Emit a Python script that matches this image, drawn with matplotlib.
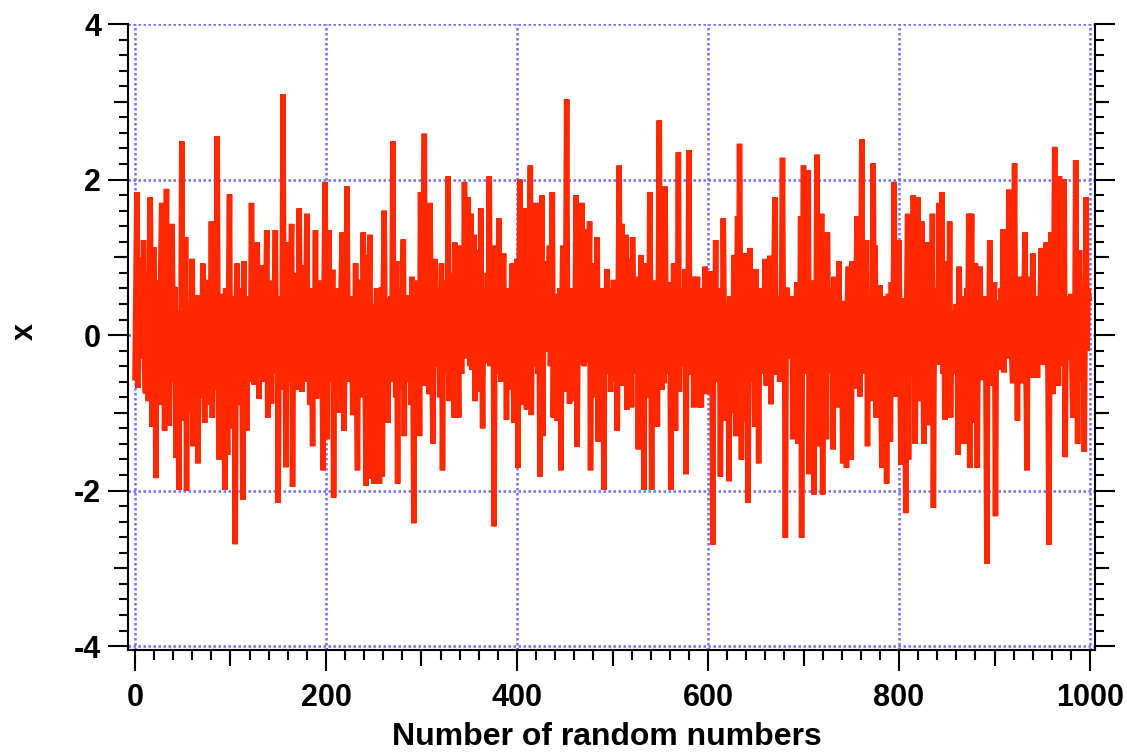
import numpy as np
import matplotlib.pyplot as plt
from matplotlib.ticker import MultipleLocator

# Sequence of 1000 random numbers, one row per 20 samples
rand_x = [
    -0.55, 0.6, 1.84, -0.68, 0.3, 1.0, -0.2, 0.5, -0.3, 1.22, -0.41, -0.75, 0.8, 0.1, -0.85, 0.4, 1.77, 0.2, -1.18, 0.5,
    1.13, -0.3, -1.84, 0.7, -0.4, 0.3, -0.9, 0.9, 1.7, -0.2, 0.6, -1.23, 0.4, 1.88, -0.5, 0.8, -1.17, 0.2, -0.6, 1.43,
    -0.3, 0.1, 0.62, -1.58, 0.3, -0.8, -1.99, 0.2, -0.5, 2.49, -0.7, 0.5, -1.1, 1.26, -2.0, 0.4, -0.6, 0.2, -1.0, 0.3,
    0.98, -1.43, 0.5, -0.3, 0.1, 0.51, -1.65, 0.2, -0.8, 0.4, -0.5, 0.92, -0.2, -1.13, 0.3, -0.6, 0.71, -0.4, 0.1, -0.9,
    1.46, -1.06, 0.5, -0.3, 0.8, -0.7, 2.56, -0.2, -1.6, 0.53, -0.4, 0.2, -1.1, 0.3, -1.99, 0.6, -0.5, -1.54, 0.4, 1.81,
    -0.8, 0.2, -1.2, 0.5, -0.3, -2.69, 0.4, 0.92, -0.9, 0.3, -0.5, 0.6, -0.2, -2.12, 0.95, -0.4, 0.3, -1.23, 0.5, -0.6,
    0.2, -0.3, 1.7, 0.1, -0.5, -0.64, 0.8, -0.2, 1.19, 0.3, -0.82, 0.6, -0.4, 0.9, -0.1, 0.4, -0.6, 0.5, 1.35, -1.06,
    0.2, 0.7, -0.3, -0.88, 0.6, -0.2, 0.3, 1.35, -0.5, 0.4, -2.16, 0.2, -0.7, 0.5, -0.4, 3.1, -0.3, 0.5, -1.7, 0.2,
    -0.6, 1.19, -0.2, 0.6, 1.43, -1.95, 0.3, -0.5, 0.8, -0.4, 0.2, -0.7, 1.63, -0.3, 0.5, -0.73, 0.9, 0.1, -0.6, 0.4,
    1.56, -0.48, 0.3, -0.9, 0.6, 0.0, -1.43, 0.5, -0.3, 1.35, -0.82, 0.4, -0.5, 0.58, -0.2, 0.7, -0.6, -1.74, 0.5, 1.97,
    0.3, -1.34, 0.5, 1.35, -0.6, 0.2, -0.4, 0.84, -2.09, 0.3, -0.5, 0.6, 0.28, -1.0, 0.4, -0.3, 0.7, 1.32, -0.5, -1.23,
    0.2, -0.4, 1.91, 0.1, -0.6, 0.5, -0.2, 0.3, -1.03, 0.4, -0.3, 0.92, -0.5, -1.74, 0.6, 0.71, -0.4, 0.2, -0.8, 1.32,
    0.1, -0.6, -1.94, 1.03, -0.3, 0.5, 1.29, -1.85, 0.4, -0.2, -1.91, 0.3, -0.5, 0.6, -0.9, 0.2, -1.91, 0.4, 0.61, -1.82,
    0.5, 1.6, -0.4, 0.2, 0.47, -1.13, 0.3, -0.6, 0.5, -0.3, 2.49, -0.5, 0.4, -0.8, 0.95, -1.91, 0.3, -0.2, 0.6, -0.7,
    0.2, 1.23, -1.3, 0.4, -0.5, 0.1, 0.51, -0.6, 0.3, -0.9, 0.75, -0.3, -2.42, 0.5, -0.4, 0.7, -0.2, 0.4, -1.3, 1.84,
    0.2, -0.5, 0.6, 2.59, -0.65, 0.4, -0.3, 0.8, -0.76, 1.7, 0.2, -0.4, -1.4, 0.5, 0.98, -0.2, 0.41, -0.41, 0.6, -0.8,
    0.3, 0.92, -1.74, 0.4, -0.3, 0.7, 0.1, -0.5, 2.04, -0.85, 0.5, -0.2, 0.8, 0.2, -1.06, 1.19, -0.4, 0.6, -0.3, -1.06,
    1.15, 0.2, -0.5, 0.6, -0.2, 1.97, 0.4, -0.3, 0.58, 1.77, 0.3, -0.4, 1.56, -0.45, 0.6, 1.29, -0.85, 0.3, 1.09, -0.2,
    0.5, -0.73, 1.63, 0.2, -1.2, 0.6, -0.3, 0.4, -0.36, 0.8, 0.1, 2.04, -0.4, 0.5, -0.2, 1.15, -2.46, 0.3, -0.5, 0.7,
    -0.1, 1.5, 0.3, -0.6, -0.28, 0.5, 1.05, -0.3, 0.4, -1.09, 0.6, -0.4, 0.2, -0.7, 0.5, 0.92, -0.5, -1.13, 0.4, -0.3,
    0.98, -1.71, 0.4, 2.0, -0.3, 0.5, -0.9, 0.6, 0.1, 1.63, -0.96, 0.4, -0.5, 0.8, 2.18, -1.03, 0.3, -0.4, 0.7, -0.38,
    1.7, 0.2, -0.5, 0.6, -1.82, 0.4, 1.8, -1.3, 0.5, -0.2, 0.3, 0.95, -0.21, 0.5, 1.15, -0.4, 0.2, 1.84, -1.06, 0.3,
    -0.5, 0.53, -1.1, 0.4, -0.2, 0.6, -1.74, 0.3, 1.15, -0.4, -0.73, 0.5, 3.03, -0.2, 0.4, -0.88, 0.33, -0.3, 0.6, 0.1,
    -0.85, 0.5, 1.8, -1.44, 0.3, -0.2, 0.6, -0.38, 1.7, 0.2, -0.4, -0.32, 0.7, 1.36, -0.3, 0.5, 1.46, -1.74, 0.4, -0.2,
    0.92, -0.5, 0.3, -0.8, 1.26, -1.37, 0.4, -0.3, 0.6, -0.6, 0.2, -1.99, 0.5, -0.3, 0.85, -0.5, 0.2, 0.6, -0.73, 0.3,
    -0.2, 0.71, -0.6, 0.4, 0.1, -1.23, 0.5, 2.18, -0.2, 0.3, 1.43, -0.65, 0.5, -0.3, 1.29, -0.96, 0.4, 0.98, -0.2, 0.5,
    -0.93, 1.26, 0.2, -0.5, 0.6, -0.3, 0.75, -1.47, 0.4, -0.2, 1.03, 0.1, -0.6, -1.99, 0.5, 0.92, -0.4, 0.3, -0.8, 1.84,
    0.2, -1.99, 0.5, -0.3, 0.7, -0.2, 0.4, -1.18, 0.6, 2.76, -0.3, 0.4, -0.7, 0.5, -0.62, 1.91, 0.2, -0.5, 0.6, -0.3,
    0.68, -1.99, 0.4, -0.2, 0.92, 0.1, -1.23, 0.5, -0.3, 2.35, -0.73, 0.3, 0.51, -0.4, 0.6, -0.2, 0.85, -1.79, 0.4, -0.1,
    2.38, -0.51, 0.3, -0.4, 0.75, -0.93, 0.5, -0.2, 0.3, 0.75, -0.4, -0.93, 0.6, -0.93, 0.2, -0.5, 0.4, 0.88, -0.3, -0.76,
    0.4, -0.3, 0.82, -0.2, 0.5, -2.7, 0.3, -0.4, 1.22, -0.6, 0.4, -0.2, 0.6, -1.82, 0.3, -0.5, 1.5, 0.1, -1.1, 0.4,
    -0.3, 0.23, -1.88, 0.5, -0.2, 0.4, -1.0, 1.03, 0.2, -1.3, 0.5, 1.53, -0.4, 2.46, 0.3, -1.6, 0.4, -1.1, 1.05, -0.3,
    0.5, -0.5, -2.16, 0.4, 1.12, -0.2, 0.5, -0.6, 0.3, -1.18, 0.85, -0.3, 0.4, -1.65, 0.27, -0.5, 0.6, -0.2, -0.38, 0.5,
    0.98, -0.65, 0.3, -0.4, 0.2, 1.02, -0.89, 0.4, -0.2, 0.6, 1.77, -0.51, 0.3, -0.2, 0.5, -0.6, -0.36, 0.62, 2.28, -0.3,
    0.4, -2.61, 0.5, 0.61, -0.3, 0.2, -0.24, 0.5, 0.16, -1.34, 0.4, -0.5, 0.3, 0.68, -1.4, 0.2, -0.4, 1.53, -2.61, 0.5,
    2.18, -0.3, 0.6, -0.5, 0.4, 2.12, -1.79, 0.3, -0.2, 0.7, 0.1, -2.05, 0.5, -0.3, 2.32, -1.43, 0.4, -0.2, 0.6, 1.56,
    -2.05, 0.3, -0.4, 0.6, -1.34, 1.32, 0.2, -0.5, 0.6, -0.3, 0.4, -1.47, 0.75, -0.2, 0.5, 0.1, -0.93, 0.95, -0.3, 0.2,
    0.44, -1.65, 0.4, -0.2, 0.3, -1.71, 0.5, 0.88, -0.4, 0.3, -1.6, 0.95, 0.1, -0.3, -0.69, 0.5, 1.53, -0.2, 0.4, -0.79,
    0.6, 2.52, -0.4, 0.3, -0.5, 0.6, 1.22, -1.43, 0.4, -0.2, 0.5, -0.85, 0.3, 2.21, -0.3, 1.15, -1.06, 0.4, -0.2, 0.3,
    0.64, -0.5, -1.71, 0.4, 0.2, -0.3, 0.5, -1.91, 0.3, 0.53, -0.4, -1.37, 0.68, -0.2, 0.4, 1.97, -0.79, 0.5, -0.3, 0.6,
    1.22, -0.4, -1.67, 0.3, 0.47, -0.5, 0.2, -2.29, 0.4, 1.56, -1.6, 0.3, -0.2, 0.6, -0.5, 1.8, 0.2, -1.4, 0.4, -0.3,
    1.77, 0.1, -0.85, 0.5, 1.46, -0.2, -1.4, 0.4, -0.3, 1.19, 0.2, -1.16, 0.5, 1.09, -0.3, 1.56, -2.22, 0.4, -0.2, 0.6,
    0.1, -0.38, 1.7, -0.3, 0.4, 1.84, -0.5, 0.3, -1.09, 0.95, -0.2, 0.4, -0.6, 1.46, -1.06, 0.3, -0.2, -0.36, 0.11, -0.5,
    0.4, -0.3, -1.54, 0.88, -0.2, 0.4, -0.6, 0.2, -1.4, 0.5, -0.3, 0.6, -0.2, 1.56, -1.71, 0.3, 1.56, -1.13, 0.4, -0.2,
    0.92, -0.5, -1.71, 0.4, -0.3, 0.88, -0.58, 0.3, -0.2, 0.5, 0.28, -0.6, -2.94, 0.4, -0.2, 1.22, -0.65, 0.3, -0.4, 0.5,
    0.68, -2.33, 0.4, -0.2, 0.3, 0.44, -0.45, 0.6, -0.2, 1.36, -0.48, 0.4, -0.3, 0.6, 0.1, 1.87, -0.17, 0.5, -0.3, -0.62,
    0.6, 2.21, -0.4, 0.3, -1.1, 0.5, -0.2, 0.75, -0.62, 0.4, -0.3, 0.6, 1.32, -0.5, -1.74, 0.3, 0.75, -0.2, 0.4, -0.55,
    1.05, 0.1, -0.4, 0.5, 0.34, -0.55, 0.3, -0.2, 0.6, 1.12, -0.3, -0.38, 0.4, -0.2, 1.19, 0.2, -0.5, -2.7, 0.4, 1.32,
    -0.3, -0.76, 0.5, 2.42, -0.2, 0.4, 0.16, -0.65, 2.04, 0.3, -0.4, 0.6, -0.2, 2.0, -1.57, 0.4, -0.3, 0.5, 0.1, -0.32,
    0.53, -0.4, -1.06, 0.5, -0.2, 2.25, 0.3, -1.4, 0.4, 1.09, -0.3, 0.5, -0.6, 0.2, -1.5, 0.4, 1.77, -0.2, 0.6, 0.47,
]
n = np.arange(len(rand_x))

x_ticks = [0, 200, 400, 600, 800, 1000]
y_ticks = [-4, -2, 0, 2, 4]

plt.rcParams['font.family'] = 'Liberation Sans'
plt.rcParams['font.weight'] = 'bold'
plt.rcParams['axes.labelweight'] = 'bold'
plt.rcParams['axes.unicode_minus'] = False

fig = plt.figure(figsize=(11.27, 7.53), dpi=100)
ax = fig.add_axes([128 / 1127, 1 - 650 / 753, 967 / 1127, 626 / 753])

ax.plot(n, rand_x, color='#ff2800', lw=4.0, solid_joinstyle='bevel', zorder=3)

ax.set_xlim(-7.3, 1005.2)
ax.set_ylim(-4.05, 4)
ax.set_xticks(x_ticks)
ax.set_yticks(y_ticks)
ax.xaxis.set_minor_locator(MultipleLocator(20))
ax.yaxis.set_minor_locator(MultipleLocator(0.2))

ax.grid(True, which='major', color='#6e6eff', linestyle=(0, (1, 1)), linewidth=1.8)

ax.spines['top'].set_visible(False)
for side in ['left', 'right', 'bottom']:
    ax.spines[side].set_linewidth(1.5)

ax.tick_params(axis='y', which='major', direction='out', length=14.4, width=1.5,
               left=True, right=True, labelleft=True, labelright=False, labelsize=22, pad=5)
ax.tick_params(axis='y', which='minor', direction='out', length=6.5, width=1.5, left=True, right=True)
ax.tick_params(axis='x', which='major', direction='out', length=15, width=1.5,
               top=False, bottom=True, labelsize=22, pad=9)
ax.tick_params(axis='x', which='minor', direction='out', length=7.2, width=1.5, top=False)

# intermediate-length ticks at odd integers / odd hundreds
for loc in ['left', 'right']:
    sy = ax.secondary_yaxis(loc)
    sy.set_yticks([-3, -1, 1, 3])
    sy.tick_params(length=10, width=1.5, labelleft=False, labelright=False)
    sy.spines[loc].set_visible(False)
sx = ax.secondary_xaxis('bottom')
sx.set_xticks([100, 300, 500, 700, 900])
sx.tick_params(length=11.5, width=1.5, labelbottom=False)
sx.spines['bottom'].set_visible(False)

ax.set_xlabel('Number of random numbers', fontsize=23, fontweight='bold', va='baseline')
ax.xaxis.set_label_coords(0.495, -0.151)
ax.set_ylabel('x', fontsize=22, fontweight='bold')
ax.yaxis.set_label_coords(-0.0915, 0.508)

fig.savefig('out.png', dpi=100)
